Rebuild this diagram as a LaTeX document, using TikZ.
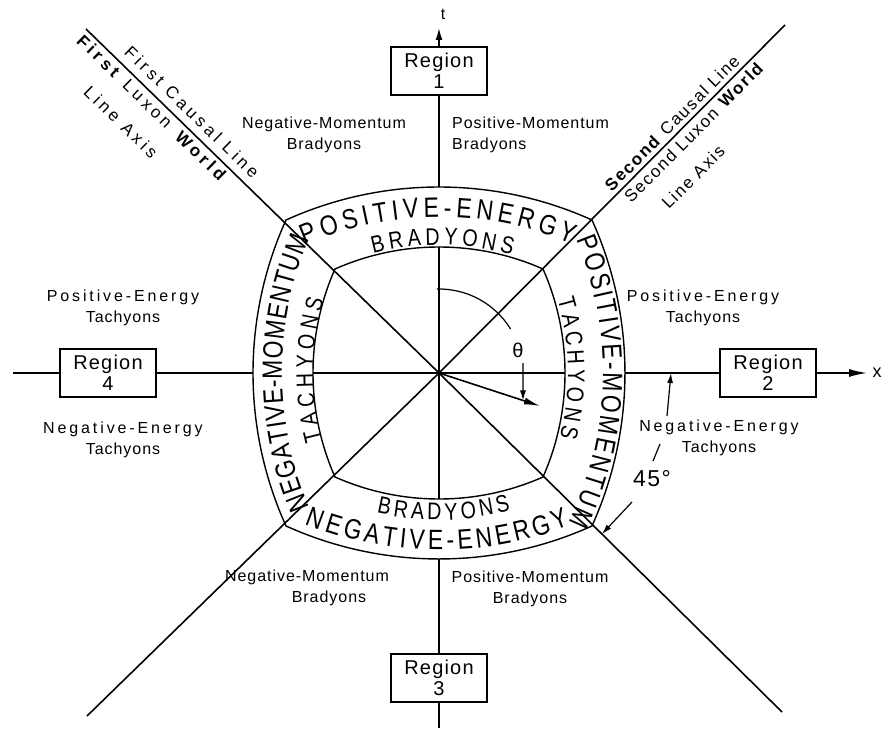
\documentclass[tikz,border=0pt]{standalone}
\usepackage{fontspec}
\setmainfont{Liberation Sans}
\newfontfamily\lblfont[LetterSpace=6]{Liberation Sans}
\newfontfamily\lblwide[LetterSpace=18]{Liberation Sans}
\newfontfamily\diagfont[LetterSpace=10]{Liberation Sans}
\newfontfamily\diagwide[LetterSpace=22]{Liberation Sans}
\newfontfamily\bandfont[FakeStretch=0.82]{Liberation Sans}
\usetikzlibrary{arrows.meta,decorations.text,calc}
\newcommand\bandbig{\bandfont\fontsize{28}{28}\selectfont}
\newcommand\bandsmall{\bandfont\fontsize{24}{24}\selectfont}
\begin{document}
\begin{tikzpicture}[x=1pt,y=1pt,
  axis/.style={line width=1.6pt},
  ring/.style={line width=1.4pt},
  thin/.style={line width=1.2pt},
  tip/.style={-{Latex[length=12pt,width=7pt]}},
  smalltip/.style={-{Latex[length=10pt,width=6pt]}},
  regbox/.style={draw,line width=1.5pt,minimum width=96pt,minimum height=48pt,inner sep=0pt,align=center,font=\lblfont\fontsize{20}{21}\selectfont},
  lbl/.style={inner sep=0pt,align=center,font=\lblfont\fontsize{16}{21}\selectfont},
  lble/.style={inner sep=0pt,align=center,font=\lblwide\fontsize{16}{21}\selectfont},
  diag/.style={inner sep=0pt,font=\diagfont\fontsize{17}{17}\selectfont},
  diagw/.style={inner sep=0pt,font=\diagwide\fontsize{17}{17}\selectfont},
  bandtext/.style={decorate,decoration={text along path,text={#1},text align={fit to path}}}
]
\useasboundingbox (-439,-355) rectangle (443,373);
\def\Ro{371.18}
\def\Do{185.18}
\def\ao{24.342}
\def\Ri{256.82}
\def\Di{130.82}
\def\ai{23.889}

% key points
\coordinate (O) at (0,0);
\coordinate (UL) at (-353,344);
\coordinate (UR) at (346,348);
\coordinate (LL) at (-352,-343);
\coordinate (LR) at (343,-339);
\coordinate (ot) at (0,186);
\coordinate (ob) at (0,-186);
\coordinate (ol) at (-186,0);
\coordinate (or) at (186,0);
\coordinate (it) at (0,126);
\coordinate (ib) at (0,-126);
\coordinate (il) at (-126,0);
\coordinate (ir) at (126,0);
\coordinate (tt) at (0,345);
\coordinate (xt) at (428,0);
\coordinate (bt) at (0,-355);
\coordinate (lt) at (-426,0);

% rings
\draw[ring] (-153,153) arc[start angle={90+\ao}, end angle={90-\ao}, radius=\Ro]
  arc[start angle={\ao}, end angle={-\ao}, radius=\Ro]
  arc[start angle={-90+\ao}, end angle={-90-\ao}, radius=\Ro]
  arc[start angle={180+\ao}, end angle={180-\ao}, radius=\Ro] -- cycle;
\draw[ring] (-104,104) arc[start angle={90+\ai}, end angle={90-\ai}, radius=\Ri]
  arc[start angle={\ai}, end angle={-\ai}, radius=\Ri]
  arc[start angle={-90+\ai}, end angle={-90-\ai}, radius=\Ri]
  arc[start angle={180+\ai}, end angle={180-\ai}, radius=\Ri] -- cycle;

% diagonals
\draw[axis] (O) -- (UL);
\draw[axis] (O) -- (UR);
\draw[axis] (O) -- (LL);
\draw[axis] (O) -- (LR);

% region boxes
\node[regbox] (r1) at (0,302) {Region\\1};
\node[regbox] (r2) at (329,0) {Region\\2};
\node[regbox] (r3) at (0,-305) {Region\\3};
\node[regbox] (r4) at (-331,0) {Region\\4};

% axes
\draw[axis] (it) -- (ib);
\draw[axis] (il) -- (ir);
\draw[axis] (ot) -- (r1.south);
\draw[axis,tip] (r1.north) -- (tt);
\draw[axis] (or) -- (r2.west);
\draw[axis,-{Latex[length=18pt,width=8pt]}] (r2.east) -- (xt);
\draw[axis] (ob) -- (r3.north);
\draw[axis] (r3.south) -- (bt);
\draw[axis] (ol) -- (r4.east);
\draw[axis] (r4.west) -- (lt);
\node[inner sep=0pt,font=\fontsize{16}{16}\selectfont] (tlab) at (4,359) {t};
\node[inner sep=0pt,font=\fontsize{18}{18}\selectfont] (xlab) at (438,0) {x};

% band texts
\path[bandtext={|\bandbig|POSITIVE-ENERGY}] ($(0,-\Do)+(113.13:{156+\Do})$) arc[start angle=113.13, end angle=67.06, radius={156+\Do}];
\path[bandtext={|\bandsmall|BRADYONS}] ($(0,-\Di)+(104.72:{128+\Di})$) arc[start angle=104.72, end angle=73.68, radius={128+\Di}];
\path[bandtext={|\bandbig|POSITIVE-MOMENTUM}] ($(-\Do,0)+(22.39:{164+\Do})$) arc[start angle=22.39, end angle=-25.43, radius={164+\Do}];
\path[bandtext={|\bandsmall|TACHYONS}] ($(-\Di,0)+(16.32:{129+\Di})$) arc[start angle=16.32, end angle=-14.27, radius={129+\Di}];
\path[bandtext={|\bandbig|NEGATIVE-MOMENTUM}] ($(\Do,0)+(203.05:{157+\Do})$) arc[start angle=203.05, end angle=156.95, radius={157+\Do}];
\path[bandtext={|\bandsmall|TACHYONS}] ($(\Di,0)+(195.24:{126+\Di})$) arc[start angle=195.24, end angle=163.36, radius={126+\Di}];
\path[bandtext={|\bandsmall|BRADYONS}] ($(0,\Di)+(257.01:{147+\Di})$) arc[start angle=257.01, end angle=284.92, radius={147+\Di}];
\path[bandtext={|\bandbig|NEGATIVE-ENERGY}] ($(0,\Do)+(248.28:{177+\Do})$) arc[start angle=248.28, end angle=291.21, radius={177+\Do}];

% outer labels
\node[lbl] (ul) at (-115,238) {Negative-Momentum\\Bradyons};
\node[lbl,align=left,anchor=west] (ur) at (13,238) {Positive-Momentum\\Bradyons};
\node[lble] (lpe) at (-316,65) {Positive-Energy\\{\lblfont Tachyons}};
\node[lble] (lne) at (-316,-67) {Negative-Energy\\{\lblfont Tachyons}};
\node[lble] (rpe) at (264,65) {Positive-Energy\\{\lblfont Tachyons}};
\node[lble] (rne) at (280,-65) {Negative-Energy\\{\lblfont Tachyons}};
\node[lbl] (ll) at (-132,-215) {Negative-Momentum\\\hspace*{44pt}Bradyons};
\node[lbl] (lr) at (91,-216) {Positive-Momentum\\Bradyons};

% diagonal labels
\node[diagw,rotate=-44.3] (fc) at (-247,261) {First Causal Line};
\node[diagw,rotate=-44.3] (fl) at (-286,264) {\textbf{First} Luxon \textbf{World}};
\node[diagw,rotate=-44.3] (fa) at (-318,251) {Line Axis};
\node[diag,rotate=45.2] (sc) at (233,250) {\textbf{Second} Causal Line};
\node[diag,rotate=45.2] (sl) at (255,241) {Second Luxon \textbf{World}};
\node[diag,rotate=45.2] (sa) at (254,196) {Line Axis};

% theta
\coordinate (V) at (101,-33);
\coordinate (th0) at (91.5:84);
\coordinate (tha) at (84,10);
\coordinate (thb) at ($(O)!0.8317!(V)$);
\draw[thin] (th0) arc[start angle=91.5, end angle=31.6, radius=84];
\node[inner sep=0pt,font=\fontsize{20}{20}\selectfont] (thl) at (79,23) {θ};
\draw[thin,smalltip] (tha) -- (thb);
\draw[axis,-{Latex[length=16pt,width=7pt]}] (O) -- (V);

% 45 degree
\node[inner sep=0pt,font=\lblfont\fontsize{23}{23}\selectfont] (deg) at (213,-106) {45°};
\coordinate (a1s) at (228,-43);
\coordinate (a1e) at (232,0);
\coordinate (sl1) at (214,-88);
\coordinate (sl2) at (221,-71);
\coordinate (a2s) at (193,-129);
\coordinate (a2e) at ($(O)!0.475!(LR)$);
\draw[thin,smalltip] (a1s) -- (a1e);
\draw[thin] (sl1) -- (sl2);
\draw[thin,smalltip] (a2s) -- (a2e);
\end{tikzpicture}
\end{document}
